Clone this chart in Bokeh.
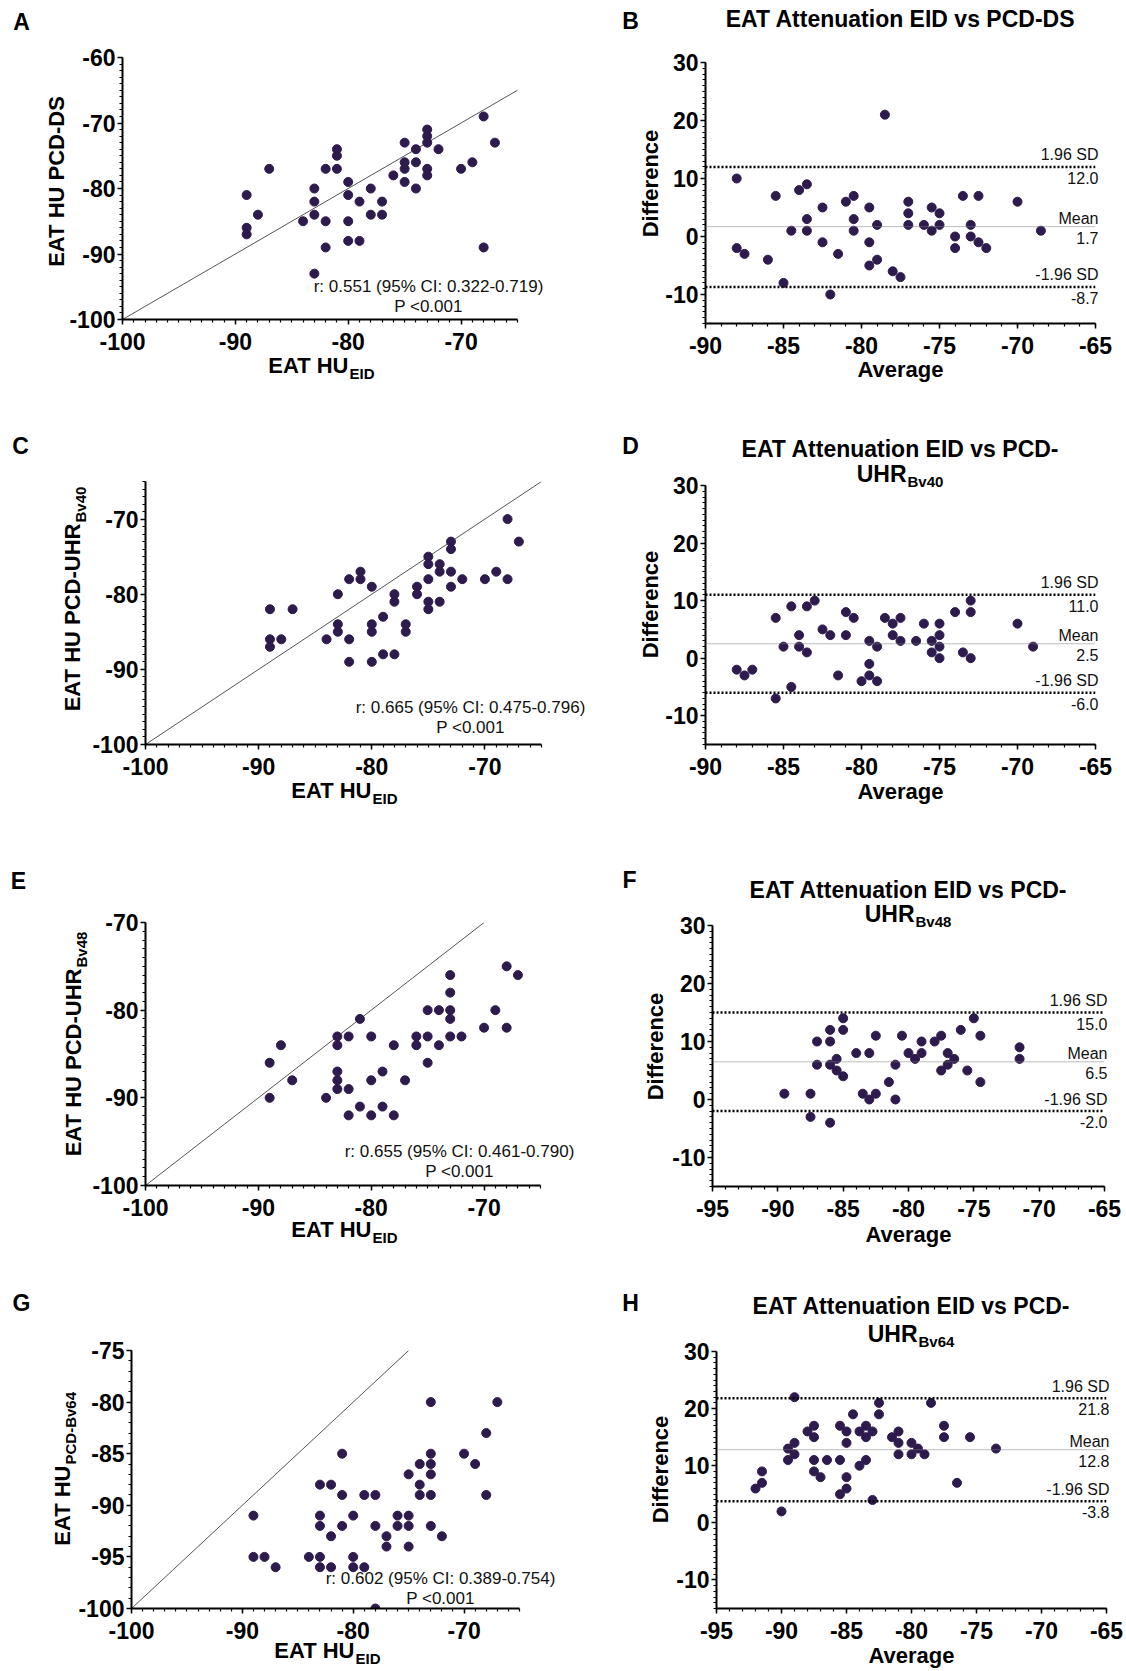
import math
from bokeh.plotting import figure
from bokeh.models import Range1d, FixedTicker, Label, Span, GridBox
from bokeh.layouts import column, row
from bokeh.embed import file_html
from bokeh.resources import INLINE

# ---------------- data ----------------
# A: EAT HU EID vs PCD-DS
a_eid = [-68, -67, -69, -70, -68, -73, -73, -73, -72, -73, -73, -74, -74, -74, -75,
         -75, -75, -75, -76, -77, -77, -78, -78, -79, -79, -80, -80, -80, -80, -81,
         -81, -81, -82, -82, -82, -83, -83, -83, -83, -84, -87, -88, -89, -89, -89]
a_pcd = [-69, -73, -76, -77, -89, -71, -72, -73, -74, -77, -78, -74, -76, -80, -73,
         -76, -77, -79, -78, -82, -84, -80, -84, -82, -88, -79, -81, -85, -88, -74,
         -75, -77, -77, -85, -89, -80, -82, -84, -93, -85, -77, -84, -81, -86, -87]
# B: Bland-Altman EID vs PCD-DS
b_avg = [-88, -88, -87.5, -86, -85.5, -85, -84.5, -84, -83.5, -83.5, -83.5, -82.5, -82.5, -82, -81.5,
         -81, -80.5, -80.5, -80.5, -79.5, -79.5, -79.5, -79, -79, -78.5, -78, -77.5, -77, -77, -77,
         -76, -75.5, -75.5, -75, -75, -74, -74, -73.5, -73, -73, -72.5, -72.5, -72, -70, -68.5]
b_diff = [10, -2, -3, -4, 7, -8, 1, 8, 9, 3, 1, 5, -1, -10, -3,
          6, 7, 3, 1, 5, -1, -5, 2, -4, 21, -6, -7, 6, 4, 2,
          2, 5, 1, 4, 2, 0, -2, 7, 2, 0, 7, -1, -2, 6, 1]
b_lines = [12.0, 1.7, -8.7]
b_vals = ["12.0", "1.7", "-8.7"]
# C: EAT HU EID vs PCD-UHR Bv40
c_eid = [-68, -67, -69, -70, -68, -72, -73, -73, -73, -73, -74, -74, -74, -75, -75,
         -75, -75, -75, -76, -76, -77, -77, -78, -78, -78, -79, -79, -80, -80, -80,
         -80, -81, -81, -82, -82, -82, -83, -83, -83, -84, -87, -88, -89, -89, -89]
c_pcd = [-70, -73, -77, -78, -78, -78, -73, -74, -77, -79, -76, -77, -81, -75, -76,
         -78, -81, -82, -79, -80, -84, -85, -80, -81, -88, -83, -88, -79, -84, -85,
         -89, -77, -78, -78, -86, -89, -80, -84, -85, -86, -82, -86, -82, -86, -87]
# D
d_avg = [-88, -87.5, -87, -85.5, -85.5, -85, -84.5, -84.5, -84, -84, -83.5, -83.5, -83, -82.5, -82,
         -81.5, -81, -81, -80.5, -80, -79.5, -79.5, -79.5, -79, -79, -78.5, -78, -78, -77.5, -77.5,
         -76.5, -76, -75.5, -75.5, -75, -75, -75, -75, -74, -73.5, -73, -73, -73, -70, -69]
d_diff = [-2, -3, -2, 7, -7, 2, 9, -5, 4, 2, 9, 1, 10, 5, 4,
          -3, 8, 4, 7, -4, 3, -1, -3, 2, -4, 7, 6, 4, 7, 3,
          3, 6, 3, 1, 6, 4, 2, 0, 8, 1, 10, 8, 0, 6, 2]
d_lines = [11.0, 2.5, -6.0]
d_vals = ["11.0", "2.5", "-6.0"]
# E: EAT HU EID vs PCD-UHR Bv48
e_eid = [-68, -67, -69, -70, -68, -72, -73, -73, -73, -73, -73, -74, -74, -75, -75,
         -75, -76, -76, -77, -78, -78, -79, -79, -80, -80, -80, -81, -81, -82, -82,
         -82, -83, -83, -83, -83, -83, -84, -87, -88, -89, -89]
e_pcd = [-75, -76, -80, -82, -82, -83, -76, -78, -80, -81, -83, -80, -84, -80, -83,
         -86, -83, -84, -88, -84, -92, -87, -91, -83, -88, -92, -81, -91, -83, -89,
         -92, -83, -84, -87, -88, -89, -90, -88, -84, -86, -90]
# F
f_avg = [-89.5, -87.5, -87.5, -87, -87, -86, -86, -86, -86, -85.5, -85.5, -85, -85, -85, -84,
         -83.5, -83, -83, -82.5, -82.5, -81.5, -81, -81, -80.5, -80, -79.5, -79, -79, -78, -77.5,
         -77.5, -77, -77, -76.5, -76, -75.5, -75, -74.5, -74.5, -71.5, -71.5]
f_diff = [1, 1, -3, 10, 6, 12, 10, 6, -4, 7, 5, 14, 12, 4, 8,
          1, 8, 0, 11, 1, 3, 6, 0, 11, 8, 7, 10, 8, 10, 11,
          5, 8, 6, 7, 12, 5, 14, 11, 3, 9, 7]
f_lines = [15.0, 6.5, -2.0]
f_vals = ["15.0", "6.5", "-2.0"]
# G: EAT HU EID vs PCD-Bv64
g_eid = [-67, -68, -68, -69, -70, -72, -73, -73, -73, -73, -73, -73, -74, -74, -74,
         -75, -75, -75, -75, -76, -76, -77, -77, -78, -78, -78, -79, -79, -80, -80,
         -80, -81, -81, -81, -82, -82, -82, -83, -83, -83, -83, -83, -84, -87, -88,
         -89, -89]
g_pcd = [-80, -83, -89, -86, -85, -93, -80, -85, -86, -87, -89, -92, -86, -88, -89,
         -87, -91, -92, -94, -91, -92, -93, -94, -89, -92, -100, -89, -96, -91, -95,
         -96, -85, -89, -92, -88, -93, -96, -88, -91, -92, -95, -96, -95, -96, -95,
         -95, -91]
# H
h_avg = [-92, -91.5, -91.5, -90, -89.5, -89.5, -89, -89, -89, -88, -87.5, -87.5, -87.5, -87.5, -87,
         -86.5, -85.5, -85.5, -85.5, -85, -85, -85, -85, -84.5, -84, -84, -83.5, -83.5, -83.5, -83,
         -83, -82.5, -82.5, -81.5, -81, -81, -81, -80, -80, -79.5, -79, -78.5, -77.5, -77.5, -76.5,
         -75.5, -73.5]
h_diff = [6, 7, 9, 2, 11, 13, 22, 14, 12, 16, 17, 15, 11, 9, 8,
          11, 17, 11, 5, 16, 14, 8, 6, 19, 16, 10, 17, 15, 11, 16,
          4, 21, 19, 15, 16, 14, 12, 14, 12, 13, 12, 21, 17, 15, 7,
          15, 13]
h_lines = [21.8, 12.8, 3.8]
h_vals = ["21.8", "12.8", "-3.8"]

line_names = ["1.96 SD", "Mean", "-1.96 SD"]
r_texts = {"A": "r: 0.551 (95% CI: 0.322-0.719)", "C": "r: 0.665 (95% CI: 0.475-0.796)",
           "E": "r: 0.655 (95% CI: 0.461-0.790)", "G": "r: 0.602 (95% CI: 0.389-0.754)"}
p_text = "P <0.001"
title_1 = "EAT Attenuation EID vs PCD-DS"
title_2 = "EAT Attenuation EID vs PCD-"

# axis ranges and ticks
scat_x_range = (-100, -65)
a_y_range = (-100, -60)
c_y_range = (-100, -65)
e_y_range = (-100, -70)
g_y_range = (-100, -75)
scat_x_ticks = [-100, -90, -80, -70]
a_y_ticks = [-100, -90, -80, -70, -60]
ce_y_ticks = [-100, -90, -80, -70]
g_y_ticks = [-100, -95, -90, -85, -80, -75]
ba_y_range = (-15, 30)
ba_y_ticks = [-10, 0, 10, 20, 30]
bd_x_range = (-90, -65)
bd_x_ticks = [-90, -85, -80, -75, -70, -65]
fh_x_range = (-95, -65)
fh_x_ticks = [-95, -90, -85, -80, -75, -70, -65]

FONT = "Liberation Sans"
DOT = "#2d1b4e"
TXT = "#111111"
PAGE_W, PAGE_H = 1126, 1671
V = math.pi / 2


def minor(r):
    return list(range(int(r[0]), int(r[1]) + 1))


def build(geom, xr, yr, xt, yt):
    ox, oy, w, h, mbl, mbr, mbt, mbb = geom
    p = figure(width=w, height=h, output_backend="svg", toolbar_location=None, tools="",
               x_range=Range1d(xr[0], xr[1]), y_range=Range1d(yr[0], yr[1]),
               min_border_left=mbl, min_border_right=mbr,
               min_border_top=mbt, min_border_bottom=mbb)
    p.outline_line_color = None
    p.background_fill_color = "white"
    p.border_fill_color = "white"
    p.xgrid.visible = False
    p.ygrid.visible = False
    p.xaxis.ticker = FixedTicker(ticks=xt, minor_ticks=minor(xr))
    p.yaxis.ticker = FixedTicker(ticks=yt, minor_ticks=minor(yr))
    p.xaxis.major_label_overrides = {t: str(t) for t in xt}
    p.yaxis.major_label_overrides = {t: str(t) for t in yt}
    for ax in (p.xaxis[0], p.yaxis[0]):
        ax.axis_line_width = 2
        ax.axis_line_color = "black"
        ax.major_tick_line_width = 1.5
        ax.minor_tick_line_width = 1.2
        ax.major_tick_line_color = "black"
        ax.minor_tick_line_color = "black"
        ax.major_tick_in = 0
        ax.major_tick_out = 5
        ax.minor_tick_in = 0
        ax.minor_tick_out = 3
        ax.major_label_text_font = FONT
        ax.major_label_text_font_style = "bold"
        ax.major_label_text_font_size = "23px"
        ax.major_label_text_color = "black"
    p.xaxis.major_label_standoff = 8
    p.yaxis.major_label_standoff = 2
    frame = (ox + mbl, oy + mbt, w - mbl - mbr, h - mbt - mbb, xr, yr)
    return p, frame


# transparent overlay that carries every free text of the page (page pixel coordinates)
ov = figure(width=PAGE_W, height=PAGE_H, output_backend="svg", toolbar_location=None, tools="",
            x_range=Range1d(0, PAGE_W), y_range=Range1d(PAGE_H, 0),
            x_axis_location=None, y_axis_location=None,
            min_border_left=0, min_border_right=0, min_border_top=0, min_border_bottom=0,
            title=None)
ov.outline_line_color = None
ov.background_fill_color = None
ov.border_fill_color = None
ov.grid.visible = False


def T(text, x, y, size, bold=True, align="center", angle=0.0, color="black"):
    # (x, y) is the visual centre line of the text
    ov.add_layout(Label(x=x, y=y, text=text, text_font=FONT, text_font_size=f"{size}px",
                        text_font_style="bold" if bold else "normal", text_align=align,
                        text_baseline="middle", angle=angle, text_color=color))


# geometry: (origin x, origin y, width, height, min_border l, r, t, b) in page px
LW, RW = 590, 536
geoA = (0, 0, LW, 425, 122, 73, 57, 106)
geoB = (LW, 0, RW, 425, 115, 31, 62, 102)
geoC = (0, 425, LW, 435, 145, 49, 56, 116)
geoD = (LW, 425, RW, 435, 115, 31, 60, 116)
geoE = (0, 860, LW, 420, 145, 50, 62, 95)
geoF = (LW, 860, RW, 420, 122, 22, 65, 94)
geoG = (0, 1280, LW, 391, 131, 71, 70, 63)
geoH = (LW, 1280, RW, 391, 126, 20, 71, 63)


def scatter_panel(geom, xs, ys, yr, yt):
    p, fr = build(geom, scat_x_range, yr, scat_x_ticks, yt)
    p.line([scat_x_range[0], yr[1]], [yr[0], yr[1]], line_color="#555555", line_width=1)
    p.scatter(xs, ys, size=9, fill_color=DOT, line_color=DOT)
    return p


def ba_panel(geom, xr, xt, xs, ys, lines, vals):
    p, fr = build(geom, xr, ba_y_range, xt, ba_y_ticks)
    fl, ft, fw, fh, _, yr = fr
    for i, v in enumerate(lines):
        if i == 1:
            p.add_layout(Span(location=v, dimension="width", line_color="#7a7a7a",
                              line_width=1, line_dash="1 1"))
        else:
            p.add_layout(Span(location=v, dimension="width", line_color="black",
                              line_width=2.5, line_dash="2 2"))
        py = ft + (yr[1] - v) / (yr[1] - yr[0]) * fh
        T(line_names[i], fl + fw + 3, py - (8 if i == 1 else 12), 16, bold=False,
          align="right", color=TXT)
        T(vals[i], fl + fw + 3, py + 11, 16, bold=False, align="right", color=TXT)
    p.scatter(xs, ys, size=9, fill_color=DOT, line_color=DOT)
    return p


pA = scatter_panel(geoA, a_eid, a_pcd, a_y_range, a_y_ticks)
pC = scatter_panel(geoC, c_eid, c_pcd, c_y_range, ce_y_ticks)
pE = scatter_panel(geoE, e_eid, e_pcd, e_y_range, ce_y_ticks)
pG = scatter_panel(geoG, g_eid, g_pcd, g_y_range, g_y_ticks)
pB = ba_panel(geoB, bd_x_range, bd_x_ticks, b_avg, b_diff, b_lines, b_vals)
pD = ba_panel(geoD, bd_x_range, bd_x_ticks, d_avg, d_diff, d_lines, d_vals)
pF = ba_panel(geoF, fh_x_range, fh_x_ticks, f_avg, f_diff, f_lines, f_vals)
pH = ba_panel(geoH, fh_x_range, fh_x_ticks, h_avg, h_diff, h_lines, h_vals)

# ---- panel letters
for letter, x, y in [("A", 21, 21), ("B", 630, 20), ("C", 20, 445), ("D", 630, 445),
                     ("E", 18, 880), ("F", 629, 879), ("G", 21, 1302), ("H", 630, 1302)]:
    T(letter, x, y, 23)

# ---- scatter panels: y labels, x labels, correlation texts
T("EAT HU PCD-DS", 56, 181, 22, angle=V)
for main, sub, x, y in [("EAT HU PCD-UHR", "Bv40", 72, 523),
                        ("EAT HU PCD-UHR", "Bv48", 73, 968),
                        ("EAT HU", "PCD-Bv64", 62, 1465)]:
    T(main, x, y, 22, align="right", angle=V)
    T(sub, x + 8, y - 1, 15, align="left", angle=V)
for x, y in [(348, 365), (371, 790), (371, 1229), (354, 1650)]:
    T("EAT HU", x, y, 22, align="right")
    T("EID", x + 1, y + 8, 15, align="left")
for key, x, y in [("A", 428, 286), ("C", 470, 707), ("E", 459, 1151), ("G", 440, 1578)]:
    T(r_texts[key], x, y, 17, bold=False, color=TXT)
    T(p_text, x, y + 20, 17, bold=False, color=TXT)

# ---- Bland-Altman panels: titles, axis labels
T(title_1, 900, 18, 23)
for sub, cx, y1, y2 in [("Bv40", 900, 448, 473), ("Bv48", 908, 889, 913), ("Bv64", 911, 1305, 1333)]:
    T(title_2, cx, y1, 23)
    T("UHR", cx + 6, y2, 23, align="right")
    T(sub, cx + 7, y2 + 8, 15, align="left")
for x, y in [(650, 183), (650, 604), (655, 1046), (660, 1469)]:
    T("Difference", x, y, 22, angle=V)
for x, y in [(900, 369), (900, 791), (908, 1234), (911, 1655)]:
    T("Average", x, y, 22)

panels = column(row(column(pA), column(pB)), row(column(pC), column(pD)),
                row(column(pE), column(pF)), row(column(pG), column(pH)))
layout = GridBox(children=[(panels, 0, 0), (ov, 0, 0)])
open("out.html", "w").write(file_html(layout, INLINE))
